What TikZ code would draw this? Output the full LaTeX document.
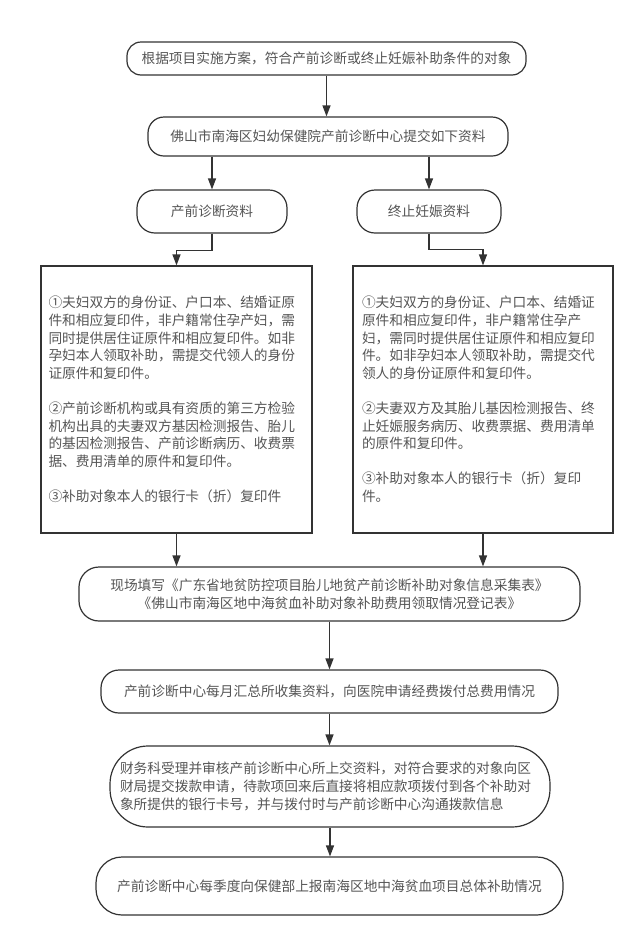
\documentclass[tikz,border=0pt]{standalone}
\usepackage{fontspec}
\setmainfont{Noto Sans CJK SC}
\usepackage{tikz}
\usetikzlibrary{arrows.meta, positioning, calc, shapes.misc}
\definecolor{linegray}{HTML}{333333}
\definecolor{textgray}{HTML}{555555}
\tikzset{
  every picture/.style={line width=1.2pt},
  every node/.style={font=\fontsize{13.7}{17.6}\selectfont, text=textgray},
  pbox/.style={draw=linegray, rectangle, rounded corners=#1, inner sep=0pt, align=center},
  pbox/.default=16pt,
  lbox/.style={draw=linegray, rectangle, inner sep=0pt, align=left},
  flow/.style={draw=linegray, -{Triangle[length=11pt, width=8pt]}}
}

\begin{document}
\begin{tikzpicture}[x=1pt, y=-1pt, tips=proper]
    \fill[white] (0,0) rectangle (640,943);
    \useasboundingbox (0,0) rectangle (640,943);

    % top of the flow
    \node [pbox=14pt, minimum width=399pt, minimum height=33pt] (target) at (326.5,58.5)
      {根据项目实施方案，符合产前诊断或终止妊娠补助条件的对象};
    \node [pbox, minimum width=360pt, minimum height=39pt] (centre) at (328,136.5)
      {佛山市南海区妇幼保健院产前诊断中心提交如下资料};

    % two branches
    \node [pbox=18pt, minimum width=150pt, minimum height=43pt] (pdata) at (212,211.5) {产前诊断资料};
    \node [pbox=18pt, minimum width=144pt, minimum height=43pt] (tdata) at (429,211.5) {终止妊娠资料};

    \node [lbox, text width=256pt, minimum width=271pt, minimum height=267pt] (plist) at (176.5,399.5)
      {①夫妇双方的身份证、户口本、结婚证原\\
       件和相应复印件，非户籍常住孕产妇，需\\
       同时提供居住证原件和相应复印件。如非\\
       孕妇本人领取补助，需提交代领人的身份\\
       证原件和复印件。\\[17.6pt]
       ②产前诊断机构或具有资质的第三方检验\\
       机构出具的夫妻双方基因检测报告、胎儿\\
       的基因检测报告、产前诊断病历、收费票\\
       据、费用清单的原件和复印件。\\[17.6pt]
       ③补助对象本人的银行卡（折）复印件};
    \node [lbox, text width=242pt, minimum width=260pt, minimum height=267pt] (tlist) at (483,399.5)
      {①夫妇双方的身份证、户口本、结婚证\\
       原件和相应复印件，非户籍常住孕产\\
       妇，需同时提供居住证原件和相应复印\\
       件。如非孕妇本人领取补助，需提交代\\
       领人的身份证原件和复印件。\\[17.6pt]
       ②夫妻双方及其胎儿基因检测报告、终\\
       止妊娠服务病历、收费票据、费用清单\\
       的原件和复印件。\\[17.6pt]
       ③补助对象本人的银行卡（折）复印\\
       件。};

    % bottom of the flow
    \node [pbox=20pt, minimum width=501pt, minimum height=54pt] (form) at (329.5,594)
      {现场填写《广东省地贫防控项目胎儿地贫产前诊断补助对象信息采集表》\\
       《佛山市南海区地中海贫血补助对象补助费用领取情况登记表》};
    \node [pbox=18pt, minimum width=457pt, minimum height=43pt] (monthly) at (329.5,691.5)
      {产前诊断中心每月汇总所收集资料，向医院申请经费拨付总费用情况};
    \node [pbox=38pt, align=left, text width=420pt, minimum width=440pt, minimum height=81pt] (finance) at (330,786.5)
      {财务科受理并审核产前诊断中心所上交资料，对符合要求的对象向区\\
       财局提交拨款申请，待款项回来后直接将相应款项拨付到各个补助对\\
       象所提供的银行卡号，并与拨付时与产前诊断中心沟通拨款信息};
    \node [pbox=26pt, minimum width=467pt, minimum height=58pt] (report) at (329.5,886)
      {产前诊断中心每季度向保健部上报南海区地中海贫血项目总体补助情况};

    \draw[flow] (target.south) -- (target.south |- centre.north);
    \draw[flow] (centre.south -| pdata) -- (pdata.north);
    \draw[flow] (centre.south -| tdata) -- (tdata.north);
    \draw[flow] (pdata.south) -- ++(0,17) -| (plist.north);
    \draw[flow] (tdata.south) -- ++(0,16) -| (tlist.north);
    \draw[flow] (plist.south) -- (plist.south |- form.north);
    \draw[flow] (tlist.south) -- (tlist.south |- form.north);
    \draw[flow] (form.south) -- (form.south |- monthly.north);
    \draw[flow] (monthly.south) -- (monthly.south |- finance.north);
    \draw[flow] (finance.south) -- (finance.south |- report.north);
  \end{tikzpicture}
\end{document}
